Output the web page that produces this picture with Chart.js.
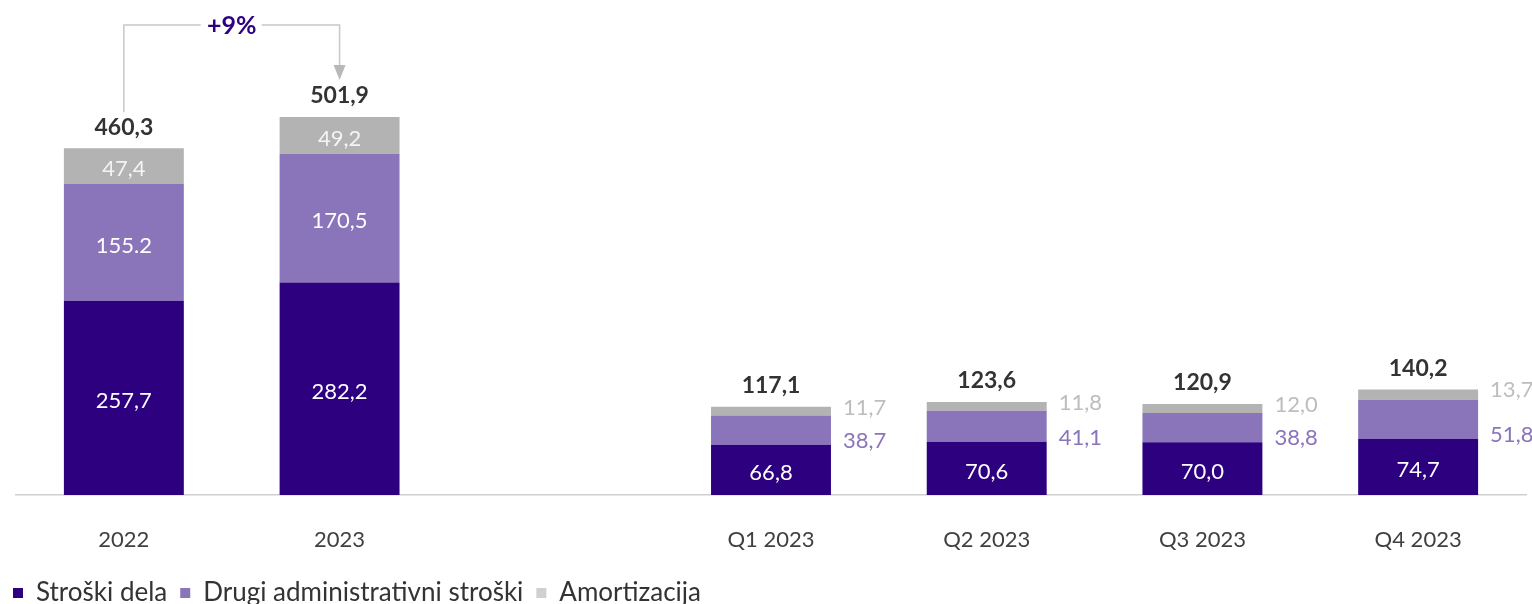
<html>
<head>
	<meta charset="UTF-8" />
	<script src="https://cdn.jsdelivr.net/npm/chart.js@4.4.0/dist/chart.umd.min.js"></script>
	<style>
		body { margin: 0; background: #fff; }
	</style>
</head>
<body>
	<canvas id="myChart" width="1532" height="604" style="display:block; width:1532px; height:604px"></canvas>
	<script>
// values (mio EUR)
const categories = ["2022", "2023", "", "Q1 2023", "Q2 2023", "Q3 2023", "Q4 2023"];
const stroskiDela = [257.7, 282.2, null, 66.8, 70.6, 70.0, 74.7];
const drugiStroski = [155.2, 170.5, null, 38.7, 41.1, 38.8, 51.8];
const amortizacija = [47.4, 49.2, null, 11.7, 11.8, 12.0, 13.7];
const totals = [460.3, 501.9, null, 117.1, 123.6, 120.9, 140.2];
const growthLabel = "+9%";

const DARK = "#2d0080", LIGHT = "#8a74ba", GREY = "#b3b3b3";
const FONT = "Lato";
const PAD_BOTTOM = -12;

// the source writes one label with a dot
function fmt(v, ds, i) {
	const s = v.toFixed(1);
	return (ds === 1 && i === 0) ? s : s.replace(".", ",");
}

const labelPlugin = {
	id: "labels",
	afterDatasetsDraw(chart) {
		const ctx = chart.ctx;
		const metas = [0, 1, 2].map(d => chart.getDatasetMeta(d).data);
		ctx.save();
		ctx.textBaseline = "middle";
		totals.forEach((t, i) => {
			if (t == null) return;
			const vals = [stroskiDela[i], drugiStroski[i], amortizacija[i]];
			for (let d = 0; d < 3; d++) {
				const bar = metas[d][i];
				const text = fmt(vals[d], d, i);
				ctx.font = "400 22px " + FONT;
				if (i < 2 || d === 0) {
					ctx.textAlign = "center";
					ctx.fillStyle = d === 2 ? "#f4f4f4" : "#ffffff";
					ctx.fillText(text, bar.x, (bar.y + bar.base) / 2 + 3);
				} else {
					ctx.textAlign = "left";
					const x = bar.x + bar.width / 2 + 12;
					if (d === 1) {
						ctx.fillStyle = LIGHT;
						ctx.fillText(text, x, bar.base - 4);
					} else {
						ctx.fillStyle = "#bdbdbd";
						ctx.fillText(text, x, bar.y + 1);
					}
				}
			}
			const top = metas[2][i];
			ctx.font = "700 23px " + FONT;
			ctx.textAlign = "center";
			ctx.fillStyle = "#333333";
			ctx.fillText(t.toFixed(1).replace(".", ","), top.x, top.y - 21);
		});

		// growth bracket between the two annual bars
		const a = metas[2][0], b = metas[2][1];
		const yTop = b.y - 92;
		const midX = (a.x + b.x) / 2;
		ctx.strokeStyle = "#c8c8c8";
		ctx.lineWidth = 1.5;
		ctx.beginPath();
		ctx.moveTo(a.x, a.y - 36);
		ctx.lineTo(a.x, yTop);
		ctx.lineTo(midX - 31, yTop);
		ctx.moveTo(midX + 30, yTop);
		ctx.lineTo(b.x, yTop);
		ctx.lineTo(b.x, b.y - 50);
		ctx.stroke();
		ctx.fillStyle = "#b8b8b8";
		ctx.beginPath();
		ctx.moveTo(b.x - 6, b.y - 52);
		ctx.lineTo(b.x + 6, b.y - 52);
		ctx.lineTo(b.x, b.y - 37);
		ctx.closePath();
		ctx.fill();
		ctx.font = "700 25px " + FONT;
		ctx.fillStyle = DARK;
		ctx.textAlign = "center";
		ctx.fillText(growthLabel, midX, yTop + 1);
		ctx.restore();
	}
};

const chart = new Chart(document.getElementById("myChart").getContext("2d"), {
	type: "bar",
	data: {
		labels: categories,
		datasets: [
			{ label: "Stroški dela", data: stroskiDela, backgroundColor: DARK },
			{ label: "Drugi administrativni stroški", data: drugiStroski, backgroundColor: LIGHT },
			{ label: "Amortizacija", data: amortizacija, backgroundColor: GREY }
		]
	},
	options: {
		responsive: false,
		animation: false,
		maintainAspectRatio: false,
		layout: { padding: { top: 43, left: 0, right: 6, bottom: PAD_BOTTOM } },
		datasets: { bar: { categoryPercentage: 1, barPercentage: 0.556 } },
		scales: {
			x: {
				stacked: true,
				grid: { display: false },
				border: { display: true, color: "#d0d0d0", width: 1.5 },
				ticks: { color: "#404040", padding: 24, font: { family: FONT, size: 22 } },
				afterFit: s => { s.height = s.chart.height - PAD_BOTTOM - 495 - (s.chart.legend ? s.chart.legend.height : 49); }
			},
			y: {
				stacked: true,
				min: 0,
				max: 600,
				grid: { display: false },
				border: { display: false },
				ticks: { display: false },
				afterFit: s => { s.width = 16; }
			}
		},
		plugins: {
			tooltip: { enabled: false },
			legend: {
				position: "bottom",
				align: "start",
				labels: {
					boxWidth: 10,
					boxHeight: 10,
					padding: 13,
					color: "#333333",
					font: { family: FONT, size: 26, lineHeight: 1.0 },
					generateLabels: c => Chart.defaults.plugins.legend.labels.generateLabels(c).map((l, k) => {
						if (k === 2) { l.fillStyle = "#d0d0d0"; }
						l.lineWidth = 0;
						return l;
					})
				}
			}
		}
	},
	plugins: [labelPlugin]
});
	</script>
</body>
</html>
